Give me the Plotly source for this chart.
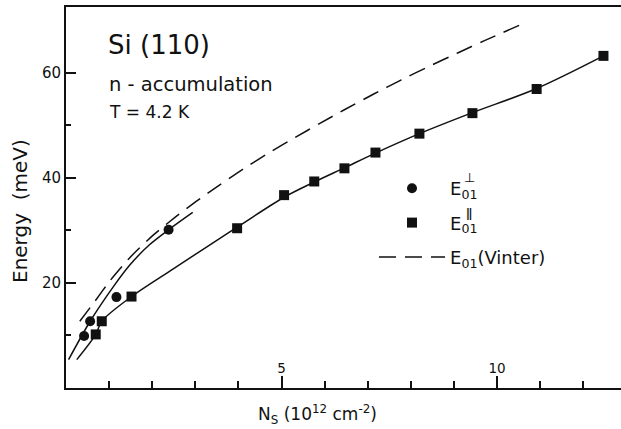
import plotly.graph_objects as go

# ---- data ----
perp_x = [0.42, 0.56, 1.17, 2.38]
perp_y = [9.9, 12.7, 17.3, 30.1]

par_x = [0.69, 0.83, 1.52, 3.97, 5.06, 5.76, 6.46, 7.18, 8.20, 9.43, 10.92, 12.47]
par_y = [10.2, 12.7, 17.4, 30.4, 36.7, 39.3, 41.8, 44.8, 48.4, 52.3, 56.9, 63.2]

perp_fit_x = [0.06, 0.56, 1.10, 1.48, 1.93, 2.38, 2.94]
perp_fit_y = [5.4, 12.7, 19.3, 23.4, 27.2, 30.1, 33.4]

par_fit_x = [0.25, 0.69, 0.83, 1.52, 2.40, 3.97, 5.06, 5.76, 6.46, 7.18, 8.20, 9.43, 10.92, 12.47]
par_fit_y = [5.4, 10.2, 12.7, 17.4, 22.2, 30.6, 36.3, 39.2, 41.9, 44.7, 48.4, 52.4, 57.0, 63.2]

vinter_x = [0.32, 0.67, 1.02, 1.48, 2.01, 2.55, 3.02, 3.56, 4.10, 4.72, 5.34, 5.88,
            6.47, 7.13, 7.77, 8.45, 9.10, 9.71, 10.65]
vinter_y = [12.7, 16.5, 20.4, 24.8, 29.0, 32.6, 35.5, 38.6, 41.6, 44.8, 47.8, 50.3,
            53.0, 55.9, 58.6, 61.3, 63.8, 66.1, 69.5]

x_tickvals = [5, 10]
x_minor = [1, 2, 3, 4, 6, 7, 8, 9, 11, 12]
y_tickvals = [20, 40, 60]
y_minor = [10, 30, 50]

FONT = "DejaVu Sans, Open Sans, sans-serif"
INK = "#111111"

fig = go.Figure()

fig.add_trace(go.Scatter(x=perp_fit_x, y=perp_fit_y, mode="lines",
                         line=dict(color=INK, width=1.5, shape="spline", smoothing=0.8),
                         showlegend=False, hoverinfo="skip"))
fig.add_trace(go.Scatter(x=par_fit_x, y=par_fit_y, mode="lines",
                         line=dict(color=INK, width=1.5, shape="spline", smoothing=0.9),
                         showlegend=False, hoverinfo="skip"))

fig.add_trace(go.Scatter(x=perp_x, y=perp_y, mode="markers", name="E<sub>01</sub>",
                         legendgroup="a",
                         marker=dict(symbol="circle", size=10, color=INK)))
fig.add_trace(go.Scatter(x=par_x, y=par_y, mode="markers", name="E<sub>01</sub>",
                         legendgroup="b",
                         marker=dict(symbol="square", size=10, color=INK)))
fig.add_trace(go.Scatter(x=vinter_x, y=vinter_y, mode="lines", name="E<sub>01</sub>(Vinter)",
                         legendgroup="c",
                         line=dict(color=INK, width=1.5, dash="17px,9px", shape="spline", smoothing=0.6)))

W, H = 621, 429
L, R, T, B = 66, 0, 7, 41
pw, ph = W - L - R, H - T - B

def px(x):
    return (x - L) / pw

def py(y):
    return (H - B - y) / ph

annos = [
    dict(text="Si (110)", x=px(106), y=py(45), xanchor="left", yanchor="middle",
         font=dict(size=26)),
    dict(text="n - accumulation", x=px(107), y=py(85), xanchor="left", yanchor="middle",
         font=dict(size=19.5)),
    dict(text="T = 4.2 K", x=px(107), y=py(112), xanchor="left", yanchor="middle",
         font=dict(size=17)),
    dict(text="Energy  (meV)", x=px(20), y=py(211), textangle=-90,
         xanchor="center", yanchor="middle", font=dict(size=20)),
    dict(text="N<sub>S</sub> (10<sup>12</sup> cm<sup>-2</sup>)", x=px(317), y=py(414),
         xanchor="center", yanchor="middle", font=dict(size=17)),
    dict(text="⊥", x=px(469), y=py(177), xanchor="center", yanchor="middle",
         font=dict(size=13)),
    dict(text="ǁ", x=px(469), y=py(212), xanchor="center", yanchor="middle",
         font=dict(size=13)),
]
for a in annos:
    a.update(xref="paper", yref="paper", showarrow=False)
    a["font"].update(family=FONT, color=INK)

fig.update_layout(
    width=W, height=H,
    margin=dict(l=L, r=R, t=T, b=B, pad=0),
    paper_bgcolor="white", plot_bgcolor="white",
    font=dict(family=FONT, color=INK, size=16),
    annotations=annos,
    showlegend=True,
    legend=dict(x=px(374), y=py(170), xanchor="left", yanchor="top",
                traceorder="grouped", tracegroupgap=8, itemwidth=66,
                font=dict(family=FONT, size=18, color=INK),
                bgcolor="rgba(0,0,0,0)", borderwidth=0),
)

fig.update_xaxes(
    range=[0, pw / 43.1], showgrid=False, zeroline=False,
    showline=True, linecolor=INK, linewidth=2, mirror=True,
    tickmode="array", tickvals=x_tickvals, ticktext=[str(v) for v in x_tickvals],
    ticks="inside", ticklen=12, tickwidth=1.5, tickcolor=INK,
    ticklabelposition="inside", tickfont=dict(size=13.5, family=FONT, color=INK),
    minor=dict(tickmode="array", tickvals=x_minor, ticks="inside", ticklen=7,
               tickwidth=1.5, tickcolor=INK, showgrid=False),
)
fig.update_yaxes(
    range=[0, 72.5], showgrid=False, zeroline=False,
    showline=True, linecolor=INK, linewidth=2, mirror=False,
    tickmode="array", tickvals=y_tickvals, ticktext=[str(v) for v in y_tickvals],
    ticks="inside", ticklen=10, tickwidth=1.5, tickcolor=INK,
    tickfont=dict(size=15, family=FONT, color=INK),
    minor=dict(tickmode="array", tickvals=y_minor, ticks="inside", ticklen=5,
               tickwidth=1.5, tickcolor=INK, showgrid=False),
)

fig.write_html("out.html", config={"displayModeBar": False},
               post_script="document.body.style.margin='0px';document.body.style.padding='0px';")
